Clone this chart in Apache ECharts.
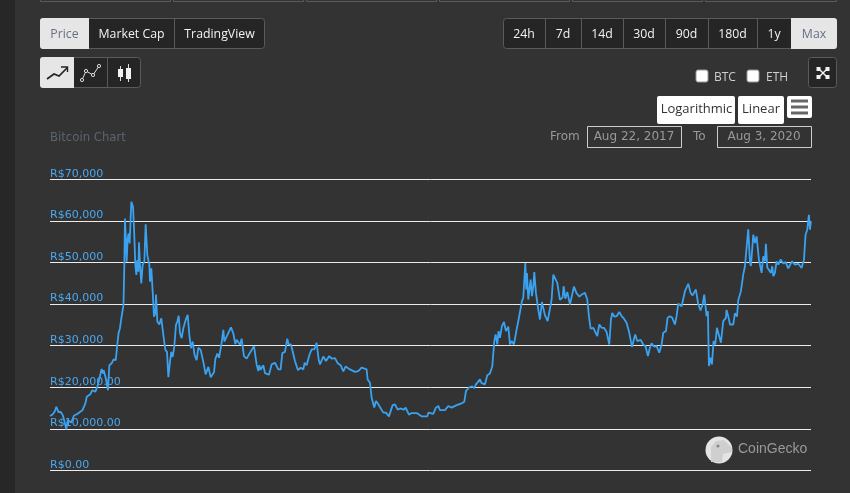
<!DOCTYPE html>
<html><head><meta charset="utf-8">
<script src="https://cdn.jsdelivr.net/npm/echarts@6/dist/echarts.min.js"></script>
<style>html,body{margin:0;padding:0;background:#333}#c{width:850px;height:493px}</style>
</head><body><div id="c"></div>
<script>
const startDate = Date.UTC(2017,7,22);
const endDate = Date.UTC(2020,7,3);
const yTicks = {0:'R$0.00',10000:'R$10,000.00',20000:'R$20,000.00',30000:'R$30,000',40000:'R$40,000',50000:'R$50,000',60000:'R$60,000',70000:'R$70,000'};
const days = [0,4,7,9,12,15,18,20,23,25,27,30,32,34,38,42,46,50,52,57,60,64,67,70,73,75,76,79,82,84,87,90,93,95,97,99,101,104,105.2,106.1,107.5,108.5,109.9,111.3,112.7,115.1,117.5,118.9,120.8,122.2,123.6,125,125.9,127.4,129.2,131.1,133.5,135.4,137.7,140.6,141.5,143.4,145.3,147.2,149.1,150,151.9,154.7,157.5,160.4,163.2,165.6,167.5,169.8,171.7,173.6,175.9,178.3,180.2,182.1,184,186.3,188.7,192,194.8,197.2,199.5,201.9,204.7,207.5,209.9,213.2,217,220.3,224.1,227.4,232.1,234,236.8,239.2,242.5,245.3,246.7,250,252.8,256.1,259.4,262.3,264.2,268.9,
271.2,272.6,274.5,278.3,283,288.7,292.4,294.8,296.2,298.1,301.9,304.2,309.9,313.7,318.4,319.8,323.1,326.4,328.8,332.5,335.8,337.7,341,346.7,350.9,354.7,358.5,360.4,363.2,367,370.3,374,377.3,380.2,382.1,386.8,390.6,395.3,398.6,403.3,407.1,411.3,415.1,418.4,424.5,431.6,436.3,441,448.1,449.5,452.8,455.2,458.9,461.3,464.6,467,471.7,475.5,479.7,484.9,488.2,492,495.3,500.9,503.3,508,511.8,518.9,525.9,534,535.4,542.4,546.2,549.5,551.9,559,563.7,568.4,575.5,582.5,586.3,588.7,593.4,597.6,600.5,602.8,608.5,610.8,615.6,618.9,622.6,625.9,627.3,628.8,630.7,633,634.9,
636.8,639.6,642.5,645.3,648.6,651,653.3,656.6,660.4,663.2,666,667.9,669.8,671.2,672.7,674.1,675,676.9,678.8,680.2,682.1,684,685.4,687.7,691,693.4,696.2,700.5,704.3,706.6,709.9,712.3,714.6,717.9,721.7,725.5,726.9,729.3,732.1,735.9,738.7,741.5,745.3,749.1,752.4,757.1,760.4,762.7,765.1,768.9,771.2,774.5,777.4,780.7,784,787.7,790.1,791.5,793.9,795.8,798.6,801.9,805.7,809,812.3,816,819.8,823.6,826.9,828.3,831.1,835.9,839.6,842.9,846.2,
849,851.4,854.7,858.5,862.3,865.6,867.9,870.3,871.7,874,877.4,880.7,884.4,886.8,889.1,893.9,898.6,900.9,903.3,906.6,909.4,911.8,914.1,917.5,920.7,923.6,925.9,929.2,931.1,932.5,934.9,936.8,939.1,941.5,943.9,946.7,949.5,952.8,956.6,957.5,959.9,962.3,967,969.3,972.2,974.1,977.8,979.2,981.1,983.5,985.8,988.2,990.6,992,995.3,997.6,1000,1003.3,1005.7,1007.1,1009.4,1011.8,1013.2,1015.1,1017.9,1020.3,1022.2,1023.6,1025.9,1028.3,1030.7,1034,1037.7,1041,1044.8,1047.2,1050,1054.2,1059,1063.7,1067,1069.3,1071.7,1074,1075.5,1076.9];
const pricesK = [13.1,13.5,14.3,15.3,14,14.1,13.3,12.1,9.9,12.1,12.3,11.5,11.7,13.2,13.5,14,14.5,16.1,17.7,18.3,19.3,18.9,20.1,22.1,24.4,23.3,24.1,22.1,19.3,25.3,25.7,26.7,26.5,29.8,33,34.2,36.6,39.8,49.4,60.6,55,50.2,55.8,57,54.6,64.6,63.4,58.2,49.4,47,50.6,47.8,54.9,49.4,45,49.4,50.2,59.2,51.8,49.4,45.4,48.6,43,37,37.8,42.3,35.8,35.1,36.6,32.6,29,28.5,22.4,26.1,28.5,27.3,29.8,35,35.8,37.2,33,31.8,34.2,36.2,37.4,32.6,29.4,31,27.7,26.5,29.5,29,26.1,23.1,24.9,22.4,23.6,26.8,28.1,27.1,30.2,33.8,31,32.2,31.9,34.4,33,30.4,31.4,30.2,
31.7,29.9,27.5,26.9,28.3,29.9,25.5,23.9,25.3,24.2,25.3,23.4,23,25.5,25.9,26.3,24.3,24.3,28.2,28.5,31.7,30.3,30.3,26.3,24.1,24.7,24.3,25.9,25.3,27.7,29.1,29.1,30.7,26.7,25.5,27.4,26.3,27.5,26.9,27,25.8,25.3,23.8,25,24.3,23.7,23.9,24.7,24.3,21.9,21.1,17.5,15.1,16.7,15.9,16.3,13.9,13.9,13,15.7,15.9,14.6,14.9,14.6,15.1,13.4,13.8,13.8,13,13,13.9,13.6,15.1,15.5,14.5,14.5,15.5,15.1,15.7,16.1,16.5,19.1,20,20.2,19.8,20.7,21.9,21,20.7,22.9,23.3,25,28,31.1,32.7,30.3,33.5,
31.9,34.7,35.7,33.5,34.6,30.3,31.1,30.3,33.9,36.3,35.9,40.7,41.5,45.5,49.9,43.5,47.5,41.1,43.9,45.9,41.9,44.3,47.7,42.7,38.7,36.3,40.5,37.3,35.9,36.3,41.1,47.1,47.5,45.1,41,41.6,44.3,41.3,42.9,39.9,39.9,44.2,42.6,41.8,42.3,42.7,41.1,37.1,34.1,34.3,34.6,32.3,35.1,34.3,34.3,33.3,33.5,30.3,36.3,37.9,37,37.1,38.1,37.1,36.5,35.5,33.1,29.7,31.9,32.7,31.1,31.4,30.3,29.8,27.5,
29.5,30.6,29.8,29.9,28.3,30.3,33.1,32.9,33.5,36.7,37.1,36.7,35.1,37.1,40.1,39.5,43.1,43.5,44.9,42.7,42.1,42.3,43.5,39.9,38.5,39.9,42.3,37.1,38.3,25.1,27.1,25.5,31.1,30.3,34.3,34.3,30.7,35.9,36.7,38.6,37.1,35.1,35.1,37.8,37,41,43.1,43.5,47.1,49.1,49.5,58,50,49.2,56.7,54.7,56.3,50.7,50.3,47.5,51.5,50.3,54.5,48.8,48.4,47.5,49.1,46.7,47.5,50.3,49.5,50.7,49.8,50.1,48.6,48.6,50.3,49.5,49.7,48.7,50.7,56.7,57.9,61.5,57.9,59.9];
const tabsLeft = [['Price',40,89,1],['Market Cap',89,174,0],['TradingView',174,265,0]];
const tabsRight = [['24h',503,545,0],['7d',545,581,0],['14d',581,623,0],['30d',623,665,0],['90d',665,708,0],['180d',708,757,0],['1y',757,791,0],['Max',791,837,1]];
const topRules = [[40,171],[173,304],[306,437],[439,570],[572,703],[705,837]];

const UI='"Open Sans",sans-serif', CH='"DejaVu Sans",sans-serif';
const g=[];
const rect=(x,y,w,h,fill,stroke,r)=>g.push({type:'rect',silent:true,shape:{x,y,width:w,height:h,r:r||0},style:{fill:fill||'none',stroke:stroke||'none',lineWidth:1}});
const text=(t,x,y,color,size,align,font)=>g.push({type:'text',silent:true,x,y,style:{text:t,fill:color,font:size+'px '+(font||UI),textAlign:align||'center',textVerticalAlign:'middle'}});
const line=(pts,color,w)=>g.push({type:'polyline',silent:true,shape:{points:pts},style:{fill:'none',stroke:color,lineWidth:w||1.5}});
rect(0,0,15,493,'#272727');
topRules.forEach(r=>{line([[r[0]+.5,0],[r[0]+.5,1.5],[r[1]-.5,1.5],[r[1]-.5,0]],'#5a5a5a',1)});
function tabs(list,y,h){
  const a=list[0][1],b=list[list.length-1][2];
  rect(a+.5,y+.5,b-a-1,h-1,'#252525','#5a5a5a',3);
  list.forEach((t,i)=>{
    if(t[3]) g.push({type:'rect',silent:true,shape:{x:t[1],y,width:t[2]-t[1],height:h,r:i===0?[3,0,0,3]:[0,3,3,0]},style:{fill:'#e6e6e6'}});
    else if(i>0 && !list[i-1][3]) line([[t[1]+.5,y],[t[1]+.5,y+h]],'#5a5a5a',1);
    if(t[0]) text(t[0],(t[1]+t[2])/2,y+h/2+1,t[3]?'#667085':'#f2f2f2',12.3);
  });
}
tabs(tabsLeft,18,31); tabs(tabsRight,18,31);
tabs([['',40,74,1],['',74,107,0],['',107,141,0]],57,31);
line([[47,79],[54,74],[59,76],[67,68]],'#222',1.6); line([[61,67],[67.5,67],[67.5,72]],'#222',1.4);
line([[82,80],[86,71],[93,75],[99,66]],'#ddd',1);
[[82,80],[86,71],[93,75],[99,66]].forEach(p=>g.push({type:'circle',silent:true,shape:{cx:p[0],cy:p[1],r:1.6},style:{fill:'#252525',stroke:'#ddd',lineWidth:1}}));
line([[120.5,66],[120.5,81]],'#ddd',1); rect(118,69,5,8,'#f2f2f2');
line([[128.5,64],[128.5,82]],'#ddd',1); rect(126,68,5,11,'#f2f2f2');
// checkboxes
rect(696,70,12,12,'#fff','#999',2); text('BTC',714,78,'#cfcfcf',12,'left');
rect(747,70,12,12,'#fff','#999',2); text('ETH',766,78,'#cfcfcf',12,'left');
// fullscreen
rect(808.5,57.5,28,30,'#252525','#5a5a5a',3);
line([[819,69],[827,77]],'#f2f2f2',1.5); line([[827,69],[819,77]],'#f2f2f2',1.5);
[[816.5,67,4,4],[825.5,67,4,4],[816.5,75,4,4],[825.5,75,4,4]].forEach(r=>rect(r[0],r[1],r[2],r[3],'#f2f2f2'));
// range controls
rect(657,96,78,28,'#fff',null,2); text('Logarithmic',696.5,109,'#333',13);
rect(738,96,46,28,'#fff',null,2); text('Linear',761,109,'#333',13);
rect(787,96,25,22,'#fff',null,2);
[100,106,112].forEach(y=>rect(791,y-.5,17,3,'#666'));
text('From',550,136.5,'#999',12,'left',CH);
rect(587.5,126.5,94,21,'none','#ccc'); text('Aug 22, 2017',634,136.5,'#999',12,'center',CH);
text('To',693,136.5,'#999',12,'left',CH);
rect(717.5,126.5,94,21,'none','#ccc'); text('Aug 3, 2020',764,136.5,'#999',12,'center',CH);
text('Bitcoin Chart',50,138,'#5b6470',11.7,'left',CH);
// logo
g.push({type:'circle',silent:true,z:5,shape:{cx:719,cy:450,r:13.5},style:{fill:'#e4e4e4'}});
g.push({type:'polygon',silent:true,z:6,shape:{points:[[711,462],[711,447],[716,441],[724,440],[732,448],[732,452],[723,454],[722,462]]},style:{fill:'#cfcfcf'}});
g.push({type:'circle',silent:true,z:7,shape:{cx:718,cy:446,r:1.6},style:{fill:'#8a8a8a'}});
g.push({type:'text',silent:true,z:6,x:738,y:449.5,style:{text:'CoinGecko',fill:'#999',font:'14px "Liberation Sans",sans-serif',textAlign:'left',textVerticalAlign:'middle'}});

const chart=echarts.init(document.getElementById('c'),null,{renderer:'canvas'});
chart.setOption({
  animation:false,backgroundColor:'#333',
  grid:{left:50,right:39,top:179.4,bottom:22.6},
  xAxis:{type:'time',min:startDate,max:endDate,show:false},
  yAxis:{type:'value',min:0,max:70000,interval:10000,
    axisLine:{show:false},axisTick:{show:false},
    splitLine:{lineStyle:{color:'#ececec',width:1}},
    axisLabel:{inside:true,margin:0,color:'#4aa8f0',fontFamily:'"DejaVu Sans",sans-serif',fontSize:11,verticalAlign:'bottom',lineHeight:11,
      formatter:v=>yTicks[v]}},
  series:[{type:'line',showSymbol:false,smooth:false,z:3,lineStyle:{color:'#3aa2f0',width:1.8},
    data:days.map((d,i)=>[startDate+d*86400000,pricesK[i]*1000])}],
  graphic:g
});
</script></body></html>
